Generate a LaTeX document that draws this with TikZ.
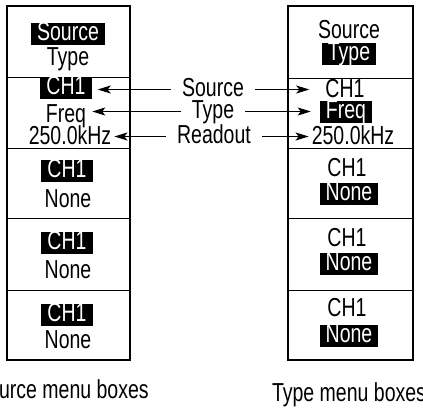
\documentclass[tikz,border=0pt]{standalone}
\usepackage{fontspec}
\setmainfont{Liberation Sans}[FakeStretch=0.75]
\usetikzlibrary{arrows.meta}

\begin{document}
\begin{tikzpicture}[x=1pt,y=-1pt,
  font=\fontsize{26}{28}\selectfont,
  every node/.style={inner sep=0pt, text height=16pt, text depth=3pt, anchor=base},
  hl/.style={fill=black, text=white, inner xsep=6pt, inner ysep=1.5pt},
  panel/.style={line width=2pt},
  rule/.style={line width=1pt},
  pointer/.style={line width=1.4pt, -{Stealth[length=13pt,width=8pt,inset=3pt]}, shorten <=11pt}]
  \useasboundingbox (0,0) rectangle (423,407);
  \clip (0,0) rectangle (423,407);

  % source menu boxes
  \draw[panel] (7,6) rectangle (130,360);
  \draw[rule] (7,77) -- (130,77);
  \draw[rule] (7,148) -- (130,148);
  \draw[rule] (7,218) -- (130,218);
  \draw[rule] (7,290) -- (130,290);
  \node[hl] (lsrc) at (68,40.5) {Source};
  \node (ltype) at (68,65) {Type};
  \node[hl] (lch) at (66,94.5) {CH1};
  \node (lfreq) at (66,122) {Freq};
  \node (lread) at (70,144) {250.0kHz};
  \node[hl] (lchA) at (67,177.5) {CH1};
  \node (lnoneA) at (68,207) {None};
  \node[hl] (lchB) at (67,249.5) {CH1};
  \node (lnoneB) at (68,278) {None};
  \node[hl] (lchC) at (67,321.5) {CH1};
  \node (lnoneC) at (68,348) {None};

  % type menu boxes
  \draw[panel] (288,6) rectangle (413,360);
  \draw[rule] (288,78) -- (413,78);
  \draw[rule] (288,148) -- (413,148);
  \draw[rule] (288,218) -- (413,218);
  \draw[rule] (288,290) -- (413,290);
  \node (rsrc) at (349,38) {Source};
  \node[hl] (rtype) at (349,60.5) {Type};
  \node (rch) at (345,97) {CH1};
  \node[hl] (rfreq) at (346,118.5) {Freq};
  \node (rread) at (353,144) {250.0kHz};
  \node (rchA) at (347,176) {CH1};
  \node[hl] (rnoneA) at (349,200.5) {None};
  \node (rchB) at (347,246) {CH1};
  \node[hl] (rnoneB) at (349,270.5) {None};
  \node (rchC) at (347,316) {CH1};
  \node[hl] (rnoneC) at (349,342.5) {None};

  % pointers
  \node (lblsrc) at (213,96) {Source};
  \node (lbltype) at (213,118) {Type};
  \node (lblread) at (214,143) {Readout};
  \draw[pointer, shorten >=6pt] (lblsrc.west) -- (lblsrc.west -| lch.east);
  \draw[pointer, shorten >=6pt] (lbltype.west) -- (lbltype.west -| lfreq.east);
  \draw[pointer, shorten >=3pt] (lblread.west) -- (lblread.west -| lread.east);
  \draw[pointer, shorten >=16pt] (lblsrc.east) -- (lblsrc.east -| rch.west);
  \draw[pointer, shorten >=9pt] (lbltype.east) -- (lbltype.east -| rfreq.west);
  \draw[pointer, shorten >=3pt] (lblread.east) -- (lblread.east -| rread.west);

  % captions
  \node (lcap) at (62,398) {Source menu boxes};
  \node (rcap) at (349,401) {Type menu boxes};
\end{tikzpicture}
\end{document}
